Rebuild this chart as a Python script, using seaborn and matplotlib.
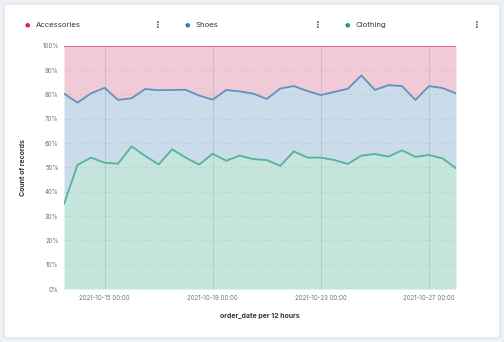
import numpy as np
import pandas as pd
import matplotlib
matplotlib.use("Agg")
import matplotlib.pyplot as plt
import matplotlib.dates as mdates
from matplotlib.patches import FancyBboxPatch
from matplotlib.ticker import PercentFormatter, MultipleLocator
import seaborn as sns

# Share of records per 12-hour bucket (%), stacked bottom to top
categories = ["Clothing", "Shoes", "Accessories"]
clothing = [34.9, 51.0, 54.0, 51.9, 51.5, 58.6, 54.7, 51.2, 57.4, 54.0,
            51.1, 55.6, 52.7, 54.8, 53.4, 53.0, 50.6, 56.6, 54.0, 54.0,
            53.0, 51.4, 54.8, 55.5, 54.4, 57.0, 54.3, 55.1, 53.7, 49.6]
shoes = [45.4, 25.6, 26.4, 30.8, 26.2, 19.8, 27.5, 30.5, 24.4, 27.9,
         28.4, 22.2, 29.1, 26.4, 26.9, 25.1, 31.8, 26.8, 27.4, 25.7,
         28.0, 30.9, 33.0, 26.3, 29.4, 26.4, 23.4, 28.3, 28.9, 30.8]
accessories = [19.7, 23.4, 19.6, 17.3, 22.3, 21.6, 17.8, 18.3, 18.2, 18.1,
               20.5, 22.2, 18.2, 18.8, 19.7, 21.9, 17.6, 16.6, 18.6, 20.3,
               19.0, 17.7, 12.2, 18.2, 16.2, 16.6, 22.3, 16.6, 17.4, 19.6]
dates = pd.date_range("2021-10-13 12:00", periods=len(clothing), freq="12h")
tick_dates = pd.to_datetime(["2021-10-15", "2021-10-19", "2021-10-23", "2021-10-27"])

colors = {"Clothing": "#54B399", "Shoes": "#6092C0", "Accessories": "#D36086"}
dot_colors = {"Clothing": "#1f9e74", "Shoes": "#3d7cc0", "Accessories": "#d9245e"}

sns.set_theme(style="white")
plt.rcParams["font.family"] = ["Inter", "DejaVu Sans"]

df = pd.DataFrame({"date": dates, "Clothing": clothing,
                   "Shoes": shoes, "Accessories": accessories})
bottom = np.zeros(len(df))
stack = {}
for c in categories:
    top = bottom + df[c].to_numpy()
    stack[c] = (bottom.copy(), top)
    bottom = top

fig = plt.figure(figsize=(5.04, 3.42), dpi=100)
fig.patch.set_facecolor("#eef1f6")
card = FancyBboxPatch((4 / 504, 4 / 342), 496 / 504, 334 / 342,
                      boxstyle="round,pad=0,rounding_size=0.008",
                      transform=fig.transFigure, facecolor="white",
                      edgecolor="#d8dde6", linewidth=0.8, zorder=-10)
fig.patches.append(card)

ax = fig.add_axes([64 / 504, 1 - 289 / 342, 392 / 504, 243.3 / 342])
ax.set_facecolor("none")

for c in categories:
    lo, hi = stack[c]
    ax.fill_between(df["date"], lo, hi, color=colors[c], alpha=0.33,
                    linewidth=0, zorder=1)
    line_df = pd.DataFrame({"date": df["date"], "value": hi})
    sns.lineplot(data=line_df, x="date", y="value", ax=ax, color=colors[c],
                 linewidth=1.3, zorder=3)

# grid: dashed horizontal, solid vertical at tick dates
for v in range(10, 100, 10):
    ax.axhline(v, color="#6a717d", linewidth=0.6, linestyle=(0, (3, 3)),
               alpha=0.14, zorder=2)
for d in tick_dates:
    ax.axvline(d, color="#6a717d", linewidth=0.7, alpha=0.22, zorder=2)

ax.set_xlim(dates[0], dates[-1])
ax.set_ylim(0, 100)
ax.yaxis.set_major_locator(MultipleLocator(10))
ax.yaxis.set_major_formatter(PercentFormatter(decimals=0))
ax.set_xticks(tick_dates)
ax.xaxis.set_major_formatter(mdates.DateFormatter("%Y-%m-%d %H:%M"))
ax.tick_params(axis="both", length=0, labelsize=4.4, labelcolor="#69707d", pad=4)
for s in ax.spines.values():
    s.set_visible(False)
ax.set_xlabel("order_date per 12 hours", fontsize=5, fontweight="bold",
              color="#343741", labelpad=9)
ax.set_ylabel("Count of records", fontsize=5, fontweight="bold",
              color="#343741", labelpad=12)

# legend row across the top of the card
legend_items = [("Accessories", 27, 158), ("Shoes", 187, 318), ("Clothing", 347, 477)]
for name, x0, xmenu in legend_items:
    fig.text(x0 / 504, 1 - 25 / 342, "\u25CF", color=dot_colors[name], fontsize=4.5,
             ha="center", va="center", family=["DejaVu Sans"])
    fig.text((x0 + 9) / 504, 1 - 25 / 342, name, color="#343741", fontsize=5.6,
             ha="left", va="center")
    fig.text(xmenu / 504, 1 - 25 / 342, "\u22EE", color="#69707d", fontsize=7,
             ha="center", va="center", fontweight="bold", family=["DejaVu Sans"])

fig.savefig("out.png", dpi=100, facecolor=fig.get_facecolor())
